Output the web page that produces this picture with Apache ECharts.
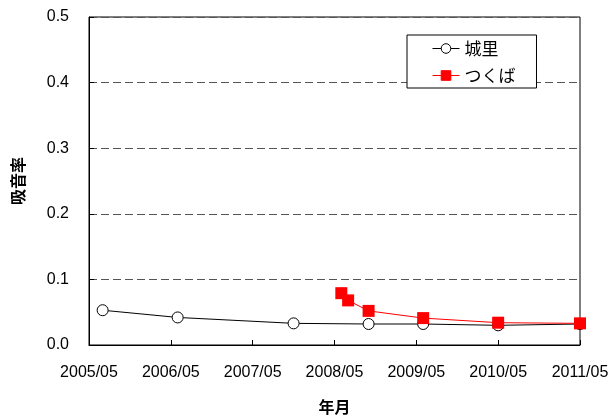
<!DOCTYPE html>
<html><head><meta charset="utf-8">
<script src="https://cdn.jsdelivr.net/npm/echarts@6/dist/echarts.min.js"></script>
<style>html,body{margin:0;padding:0;background:#fff}#c{width:613px;height:416px}</style>
</head><body><div id="c"></div>
<script>
var xTickLabels = ['2005/05','2006/05','2007/05','2008/05','2009/05','2010/05','2011/05'];
var seriesNames = ['城里','つくば'];
var joriDates = ['2005/07','2006/06','2007/11','2008/10','2009/06','2010/05','2011/05'];
var joriValues = [0.053,0.042,0.033,0.032,0.032,0.030,0.032];
var tsukubaDates = ['2008/06','2008/07','2008/10','2009/06','2010/05','2011/05'];
var tsukubaValues = [0.079,0.068,0.052,0.041,0.034,0.033];

function monthsFromStart(d){var p=d.split('/');return (parseInt(p[0])-2005)*12+(parseInt(p[1])-5);}
function pairs(ds,vs){return ds.map(function(d,i){return [monthsFromStart(d),vs[i]];});}

var font = 'Liberation Sans, Arial, "Noto Sans CJK JP", sans-serif';
var jp = '"Noto Sans CJK JP", sans-serif';
var chart = echarts.init(document.getElementById('c'));
chart.setOption({
  animation:false,
  backgroundColor:'#fff',
  grid:{left:89,right:33,top:17,bottom:71,show:true,borderColor:'#000',borderWidth:1,
        containLabel:false,outerBoundsMode:'none'},
  legend:{
    orient:'vertical',left:407,top:35,
    backgroundColor:'#fff',borderColor:'#000',borderWidth:1,
    padding:[5,21,4,25],itemGap:10,itemWidth:27,itemHeight:12,
    lineStyle:{width:1},
    itemStyle:{borderWidth:1},
    textStyle:{fontFamily:jp,fontSize:17,color:'#000',lineHeight:17},
    data:seriesNames
  },
  xAxis:{
    type:'value',min:0,max:72,interval:12,
    name:'年月',nameLocation:'middle',nameGap:54,
    nameTextStyle:{fontFamily:jp,fontSize:16,fontWeight:'bold',color:'#000'},
    axisLine:{lineStyle:{color:'#000',width:1}},
    axisTick:{inside:true,length:5,lineStyle:{color:'#000'}},
    axisLabel:{margin:20,fontFamily:font,fontSize:16,color:'#000',
      formatter:function(v){return xTickLabels[Math.round(v/12)];}},
    splitLine:{show:false}
  },
  yAxis:{
    type:'value',min:0,max:0.5,interval:0.1,
    name:'吸音率',nameLocation:'middle',nameGap:63,nameRotate:90,
    nameTextStyle:{fontFamily:jp,fontSize:16,fontWeight:'bold',color:'#000'},
    axisLine:{lineStyle:{color:'#000',width:1}},
    axisTick:{inside:true,length:5,lineStyle:{color:'#000'}},
    axisLabel:{margin:20,fontFamily:font,fontSize:16,color:'#000',formatter:function(v){return v.toFixed(1);}},
    splitLine:{show:true,lineStyle:{color:'#555',type:[8,4],width:1}}
  },
  series:[
    {name:seriesNames[0],type:'line',data:pairs(joriDates,joriValues),z:2,
     symbol:'circle',symbolSize:11,showAllSymbol:true,
     itemStyle:{color:'#fff',borderColor:'#000',borderWidth:1},
     lineStyle:{color:'#000',width:1}},
    {name:seriesNames[1],type:'line',data:pairs(tsukubaDates,tsukubaValues),z:5,
     symbol:'rect',symbolSize:12,showAllSymbol:true,
     itemStyle:{color:'#f00',borderColor:'#f00',borderWidth:0},
     lineStyle:{color:'#f00',width:1}}
  ]
});
</script></body></html>
